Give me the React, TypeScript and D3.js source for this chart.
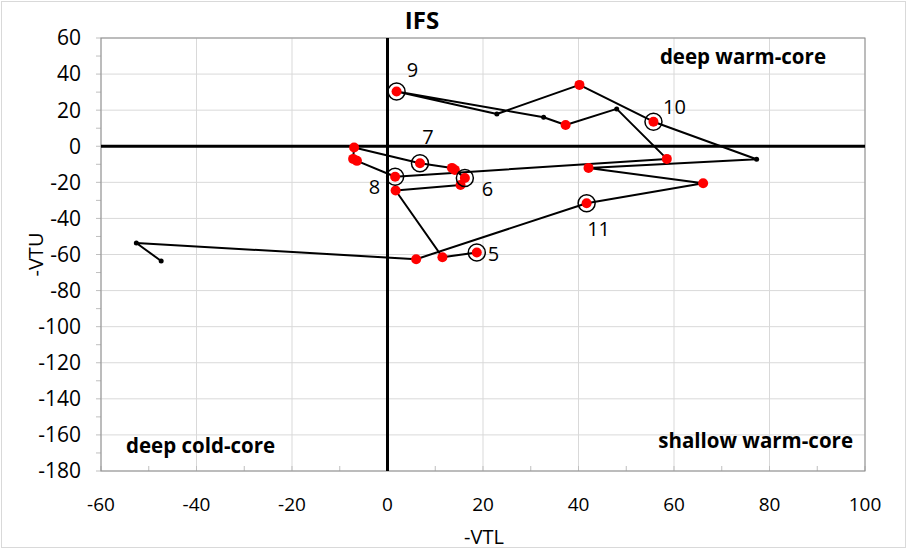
import React, { useRef, useEffect } from "react";
import * as d3 from "d3";

// cyclone phase space track (IFS), in time order
const vtl = [18.7, 11.5, 1.7, 15.3, 16.2, 14.1, 13.5, 6.8, -7.0, -7.2, -6.4, 1.6, 58.5, 48.0, 37.3, 32.7, 1.9, 22.9, 40.2, 55.7, 77.3, 42.1, 66.1, 41.7, 6.0, -52.6, -47.4];
const vtu = [-58.9, -61.5, -24.5, -21.5, -17.6, -13.1, -12.0, -9.4, -0.7, -7.0, -8.1, -16.9, -7.0, 20.7, 11.8, 16.1, 30.3, 17.9, 34.0, 13.6, -7.2, -12.0, -20.5, -31.6, -62.6, -53.6, -63.6];
// "r" = red marker, "b" = small black point
const markerKind = ["r", "r", "r", "r", "r", "r", "r", "r", "r", "r", "r", "r", "r", "b", "r", "b", "r", "b", "r", "r", "b", "r", "r", "r", "r", "b", "b"];
// circled points with day labels
const dayIndex = [0, 4, 7, 11, 16, 19, 23];
const dayText = ["5", "6", "7", "8", "9", "10", "11"];

const xTicks = [-60, -40, -20, 0, 20, 40, 60, 80, 100];
const yTicks = [60, 40, 20, 0, -20, -40, -60, -80, -100, -120, -140, -160, -180];

const W = 907;
const H = 549;
const FONT = "'Open Sans', sans-serif";

export default function App() {
  const svgRef = useRef<SVGSVGElement>(null);

  useEffect(() => {
    const svg = d3.select(svgRef.current);
    svg.selectAll("*").remove();

    const x = d3.scaleLinear().domain([-60, 100]).range([101, 865]);
    const y = d3.scaleLinear().domain([-180, 60]).range([471, 38]);

    // chart frame
    svg.append("rect")
      .attr("x", 1.5).attr("y", 1.5).attr("width", W - 3).attr("height", H - 3)
      .attr("fill", "white").attr("stroke", "#d9d9d9");

    // gridlines
    svg.append("g").selectAll("line").data(xTicks).join("line")
      .attr("x1", d => x(d)).attr("x2", d => x(d))
      .attr("y1", y(60)).attr("y2", y(-180))
      .attr("stroke", "#d9d9d9").attr("stroke-width", 1);
    svg.append("g").selectAll("line").data(yTicks).join("line")
      .attr("x1", x(-60)).attr("x2", x(100))
      .attr("y1", d => y(d)).attr("y2", d => y(d))
      .attr("stroke", "#d9d9d9").attr("stroke-width", 1);

    // minor ticks every 10
    const yMinor = d3.range(-180, 61, 10);
    svg.append("g").selectAll("line").data(yMinor).join("line")
      .attr("x1", x(-60) - 5).attr("x2", x(-60))
      .attr("y1", d => y(d)).attr("y2", d => y(d))
      .attr("stroke", "#bfbfbf");
    const xMinor = d3.range(-60, 101, 10);
    svg.append("g").selectAll("line").data(xMinor).join("line")
      .attr("x1", d => x(d)).attr("x2", d => x(d))
      .attr("y1", y(-180)).attr("y2", y(-180) - 5)
      .attr("stroke", "#bfbfbf");

    // plot border
    svg.append("rect")
      .attr("x", x(-60)).attr("y", y(60))
      .attr("width", x(100) - x(-60)).attr("height", y(-180) - y(60))
      .attr("fill", "none").attr("stroke", "#8c8c8c").attr("stroke-width", 1);

    // zero axes
    svg.append("line")
      .attr("x1", x(0)).attr("x2", x(0)).attr("y1", y(60)).attr("y2", y(-180))
      .attr("stroke", "black").attr("stroke-width", 3);
    svg.append("line")
      .attr("x1", x(-60)).attr("x2", x(100)).attr("y1", y(0)).attr("y2", y(0))
      .attr("stroke", "black").attr("stroke-width", 3);

    // tick labels
    svg.append("g").selectAll("text").data(yTicks).join("text")
      .attr("x", 81).attr("y", d => y(d))
      .attr("dy", "0.35em")
      .attr("text-anchor", "end")
      .attr("font-family", FONT).attr("font-size", 21)
      .text(d => d);
    svg.append("g").selectAll("text").data(xTicks).join("text")
      .attr("x", d => x(d)).attr("y", 504)
      .attr("dy", "0.35em")
      .attr("text-anchor", "middle")
      .attr("font-family", FONT).attr("font-size", 19)
      .text(d => d);

    // axis titles
    svg.append("text")
      .attr("transform", `translate(36,${(y(60) + y(-180)) / 2}) rotate(-90)`)
      .attr("dy", "0.35em").attr("text-anchor", "middle")
      .attr("font-family", FONT).attr("font-size", 20)
      .text("-VTU");
    svg.append("text")
      .attr("x", 484).attr("y", 537).attr("dy", "0.35em").attr("text-anchor", "middle")
      .attr("font-family", FONT).attr("font-size", 20)
      .text("-VTL");

    // title and quadrant names
    svg.append("text")
      .attr("x", 422).attr("y", 21).attr("dy", "0.35em").attr("text-anchor", "middle")
      .attr("font-family", FONT).attr("font-size", 24).attr("font-weight", "bold")
      .text("IFS");
    const quad = [
      { t: "deep warm-core", x: 826, y: 57, a: "end" },
      { t: "deep cold-core", x: 126, y: 446, a: "start" },
      { t: "shallow warm-core", x: 853, y: 441, a: "end" },
    ];
    svg.append("g").selectAll("text").data(quad).join("text")
      .attr("x", d => d.x).attr("y", d => d.y).attr("dy", "0.35em")
      .attr("text-anchor", d => d.a)
      .attr("font-family", FONT).attr("font-size", 20.5).attr("font-weight", "bold")
      .text(d => d.t);

    // track
    const pts = vtl.map((v, i) => ({ x: v, y: vtu[i], k: markerKind[i] }));
    const line = d3.line<{ x: number; y: number }>().x(d => x(d.x)).y(d => y(d.y));
    svg.append("path")
      .datum(pts)
      .attr("d", line)
      .attr("fill", "none").attr("stroke", "black").attr("stroke-width", 2)
      .attr("stroke-linejoin", "round");

    svg.append("g").selectAll("circle").data(pts).join("circle")
      .attr("cx", d => x(d.x)).attr("cy", d => y(d.y))
      .attr("r", d => (d.k === "r" ? 5 : 2.5))
      .attr("fill", d => (d.k === "r" ? "#ff0000" : "black"));

    // circled days and their labels
    const labelOffset: Record<string, [number, number, string]> = {
      "5": [11, 1, "start"],
      "6": [17, 11, "start"],
      "7": [8, -26, "middle"],
      "8": [-15, 10, "end"],
      "9": [16, -22, "middle"],
      "10": [21, -15, "middle"],
      "11": [12, 26, "middle"],
    };
    const days = dayIndex.map((idx, i) => ({ p: pts[idx], t: dayText[i] }));
    svg.append("g").selectAll("circle").data(days).join("circle")
      .attr("cx", d => x(d.p.x)).attr("cy", d => y(d.p.y))
      .attr("r", 8.5)
      .attr("fill", "none").attr("stroke", "black").attr("stroke-width", 1.5);
    svg.append("g").selectAll("text").data(days).join("text")
      .attr("x", d => x(d.p.x) + labelOffset[d.t][0])
      .attr("y", d => y(d.p.y) + labelOffset[d.t][1])
      .attr("dy", "0.35em")
      .attr("text-anchor", d => labelOffset[d.t][2])
      .attr("font-family", FONT).attr("font-size", 20)
      .text(d => d.t);
  }, []);

  return (
    <svg ref={svgRef} width={W} height={H}
      style={{ position: "absolute", left: 0, top: 0, background: "white" }} />
  );
}
